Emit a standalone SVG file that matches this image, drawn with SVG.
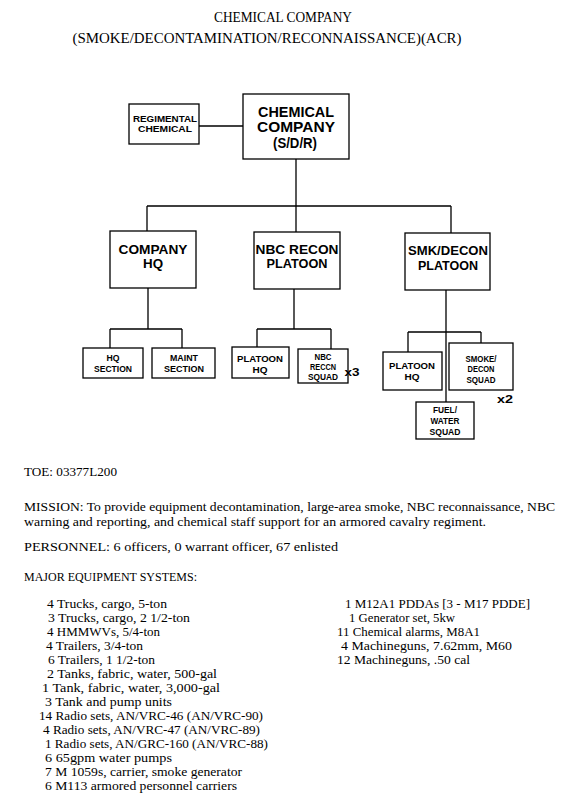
<svg xmlns="http://www.w3.org/2000/svg" width="575" height="803" viewBox="0 0 575 803">
<style>
.box{fill:#fff;stroke:#000;stroke-width:1.3}
.ln{fill:none;stroke:#000;stroke-width:1.3}
.bt{font-family:"Liberation Sans",Arial,sans-serif;font-weight:bold;text-anchor:middle;fill:#000}
.t{font-family:"Liberation Serif","Times New Roman",serif;font-size:12px;fill:#000}
.h{font-family:"Liberation Serif","Times New Roman",serif;font-size:14px;fill:#000;text-anchor:middle}
</style>
<rect width="575" height="803" fill="#fff"/>
<g id="title">
<text class="h" x="283" y="22" textLength="138" lengthAdjust="spacingAndGlyphs">CHEMICAL COMPANY</text>
<text class="h" x="267" y="43" textLength="389" lengthAdjust="spacingAndGlyphs">(SMOKE/DECONTAMINATION/RECONNAISSANCE)(ACR)</text>
</g>
<g id="connectors">
<path class="ln" d="M199 126H243"/>
<path class="ln" d="M296 159V232M147 206H451M147 206V231M451 206V233"/>
<path class="ln" d="M148 288V329M110 329H182M110 329V348M182 329V348"/>
<path class="ln" d="M294 289V329M257 329H331M257 329V347M331 329V349"/>
<path class="ln" d="M446 290V402M408 332H481M408 332V352M481 332V343"/>
</g>
<g id="n-regimental"><rect class="box" x="129" y="104" width="70" height="40"/>
<text class="bt" font-size="8.5" x="165" y="122" textLength="64" lengthAdjust="spacingAndGlyphs">REGIMENTAL</text>
<text class="bt" font-size="8.5" x="165" y="132" textLength="54" lengthAdjust="spacingAndGlyphs">CHEMICAL</text></g>
<g id="n-company"><rect class="box" x="243" y="94" width="106" height="65"/>
<text class="bt" font-size="14" x="296" y="117" textLength="76" lengthAdjust="spacingAndGlyphs">CHEMICAL</text>
<text class="bt" font-size="14" x="296" y="132" textLength="78" lengthAdjust="spacingAndGlyphs">COMPANY</text>
<text class="bt" font-size="14" x="295" y="148" textLength="44" lengthAdjust="spacingAndGlyphs">(S/D/R)</text></g>
<g id="n-cohq"><rect class="box" x="110" y="231" width="86" height="57"/>
<text class="bt" font-size="12.5" x="153" y="254" textLength="69" lengthAdjust="spacingAndGlyphs">COMPANY</text>
<text class="bt" font-size="12.5" x="153" y="268" textLength="20" lengthAdjust="spacingAndGlyphs">HQ</text></g>
<g id="n-nbc"><rect class="box" x="254" y="232" width="86" height="57"/>
<text class="bt" font-size="12.5" x="297" y="254" textLength="83" lengthAdjust="spacingAndGlyphs">NBC RECON</text>
<text class="bt" font-size="12.5" x="297" y="268" textLength="61" lengthAdjust="spacingAndGlyphs">PLATOON</text></g>
<g id="n-smk"><rect class="box" x="405" y="233" width="85" height="57"/>
<text class="bt" font-size="12.5" x="448" y="255" textLength="80" lengthAdjust="spacingAndGlyphs">SMK/DECON</text>
<text class="bt" font-size="12.5" x="448" y="270" textLength="60" lengthAdjust="spacingAndGlyphs">PLATOON</text></g>
<g id="n-hqsec"><rect class="box" x="83" y="348" width="60" height="30"/>
<text class="bt" font-size="8.5" x="113" y="361" textLength="13" lengthAdjust="spacingAndGlyphs">HQ</text>
<text class="bt" font-size="8.5" x="113" y="372" textLength="38" lengthAdjust="spacingAndGlyphs">SECTION</text></g>
<g id="n-maint"><rect class="box" x="152" y="348" width="63" height="30"/>
<text class="bt" font-size="8.5" x="184" y="361" textLength="28" lengthAdjust="spacingAndGlyphs">MAINT</text>
<text class="bt" font-size="8.5" x="184" y="372" textLength="40" lengthAdjust="spacingAndGlyphs">SECTION</text></g>
<g id="n-nbcphq"><rect class="box" x="232" y="347" width="57" height="31"/>
<text class="bt" font-size="9.5" x="260" y="362" textLength="46" lengthAdjust="spacingAndGlyphs">PLATOON</text>
<text class="bt" font-size="9.5" x="260" y="373" textLength="15" lengthAdjust="spacingAndGlyphs">HQ</text></g>
<g id="n-nbcsq"><rect class="box" x="298" y="349" width="50" height="34"/>
<text class="bt" font-size="8.5" x="323" y="360" textLength="17" lengthAdjust="spacingAndGlyphs">NBC</text>
<text class="bt" font-size="8.5" x="323" y="370" textLength="26" lengthAdjust="spacingAndGlyphs">RECCN</text>
<text class="bt" font-size="8.5" x="323" y="380" textLength="30" lengthAdjust="spacingAndGlyphs">SQUAD</text>
<text class="bt" font-size="11" x="352" y="376" textLength="15" lengthAdjust="spacingAndGlyphs">x3</text></g>
<g id="n-smkphq"><rect class="box" x="383" y="352" width="59" height="38"/>
<text class="bt" font-size="9.5" x="412" y="369" textLength="46" lengthAdjust="spacingAndGlyphs">PLATOON</text>
<text class="bt" font-size="9.5" x="412" y="380" textLength="15" lengthAdjust="spacingAndGlyphs">HQ</text></g>
<g id="n-smksq"><rect class="box" x="449" y="343" width="64" height="47"/>
<text class="bt" font-size="9" x="481" y="362" textLength="31" lengthAdjust="spacingAndGlyphs">SMOKE/</text>
<text class="bt" font-size="9" x="481" y="372" textLength="27" lengthAdjust="spacingAndGlyphs">DECON</text>
<text class="bt" font-size="9" x="481" y="383" textLength="29" lengthAdjust="spacingAndGlyphs">SQUAD</text>
<text class="bt" font-size="11" x="505" y="403" textLength="16" lengthAdjust="spacingAndGlyphs">x2</text></g>
<g id="n-fuel"><rect class="box" x="416" y="402" width="58" height="37"/>
<text class="bt" font-size="9" x="445" y="413" textLength="24" lengthAdjust="spacingAndGlyphs">FUEL/</text>
<text class="bt" font-size="9" x="445" y="424" textLength="29" lengthAdjust="spacingAndGlyphs">WATER</text>
<text class="bt" font-size="9" x="445" y="435" textLength="31" lengthAdjust="spacingAndGlyphs">SQUAD</text></g>
<g id="body">
<text class="t" x="24" y="476" textLength="93" lengthAdjust="spacingAndGlyphs">TOE:  03377L200</text>
<text class="t" x="24" y="511" textLength="531" lengthAdjust="spacingAndGlyphs">MISSION: To provide equipment decontamination, large-area smoke, NBC reconnaissance, NBC</text>
<text class="t" x="24" y="526" textLength="462" lengthAdjust="spacingAndGlyphs">warning and reporting, and chemical staff support for an armored cavalry regiment.</text>
<text class="t" x="24" y="551" textLength="314" lengthAdjust="spacingAndGlyphs">PERSONNEL: 6 officers, 0 warrant officer, 67 enlisted</text>
<text class="t" x="24" y="581" textLength="173" lengthAdjust="spacingAndGlyphs">MAJOR EQUIPMENT SYSTEMS:</text>
<text class="t" x="47" y="608" textLength="120" lengthAdjust="spacingAndGlyphs">4 Trucks, cargo, 5-ton</text>
<text class="t" x="48" y="622" textLength="142" lengthAdjust="spacingAndGlyphs">3 Trucks, cargo, 2 1/2-ton</text>
<text class="t" x="47" y="636" textLength="113" lengthAdjust="spacingAndGlyphs">4 HMMWVs, 5/4-ton</text>
<text class="t" x="46" y="650" textLength="97" lengthAdjust="spacingAndGlyphs">4 Trailers, 3/4-ton</text>
<text class="t" x="48" y="664" textLength="107" lengthAdjust="spacingAndGlyphs">6 Trailers, 1 1/2-ton</text>
<text class="t" x="47" y="678" textLength="170" lengthAdjust="spacingAndGlyphs">2 Tanks, fabric, water, 500-gal</text>
<text class="t" x="42" y="692" textLength="178" lengthAdjust="spacingAndGlyphs">1 Tank, fabric, water, 3,000-gal</text>
<text class="t" x="45" y="706" textLength="127" lengthAdjust="spacingAndGlyphs">3 Tank and pump units</text>
<text class="t" x="39" y="720" textLength="224" lengthAdjust="spacingAndGlyphs">14 Radio sets, AN/VRC-46 (AN/VRC-90)</text>
<text class="t" x="43" y="734" textLength="217" lengthAdjust="spacingAndGlyphs">4 Radio sets, AN/VRC-47 (AN/VRC-89)</text>
<text class="t" x="45" y="748" textLength="223" lengthAdjust="spacingAndGlyphs">1 Radio sets, AN/GRC-160 (AN/VRC-88)</text>
<text class="t" x="45" y="762" textLength="127" lengthAdjust="spacingAndGlyphs">6 65gpm  water pumps</text>
<text class="t" x="45" y="776" textLength="197" lengthAdjust="spacingAndGlyphs">7 M 1059s, carrier, smoke generator</text>
<text class="t" x="45" y="790" textLength="192" lengthAdjust="spacingAndGlyphs">6 M113 armored personnel carriers</text>
<text class="t" x="345" y="608" textLength="185" lengthAdjust="spacingAndGlyphs">1 M12A1 PDDAs [3 - M17 PDDE]</text>
<text class="t" x="349" y="622" textLength="106" lengthAdjust="spacingAndGlyphs">1 Generator set, 5kw</text>
<text class="t" x="337" y="636" textLength="143" lengthAdjust="spacingAndGlyphs">11 Chemical alarms, M8A1</text>
<text class="t" x="341" y="650" textLength="171" lengthAdjust="spacingAndGlyphs">4 Machineguns, 7.62mm, M60</text>
<text class="t" x="337" y="664" textLength="133" lengthAdjust="spacingAndGlyphs">12 Machineguns, .50 cal</text>
</g>
</svg>
